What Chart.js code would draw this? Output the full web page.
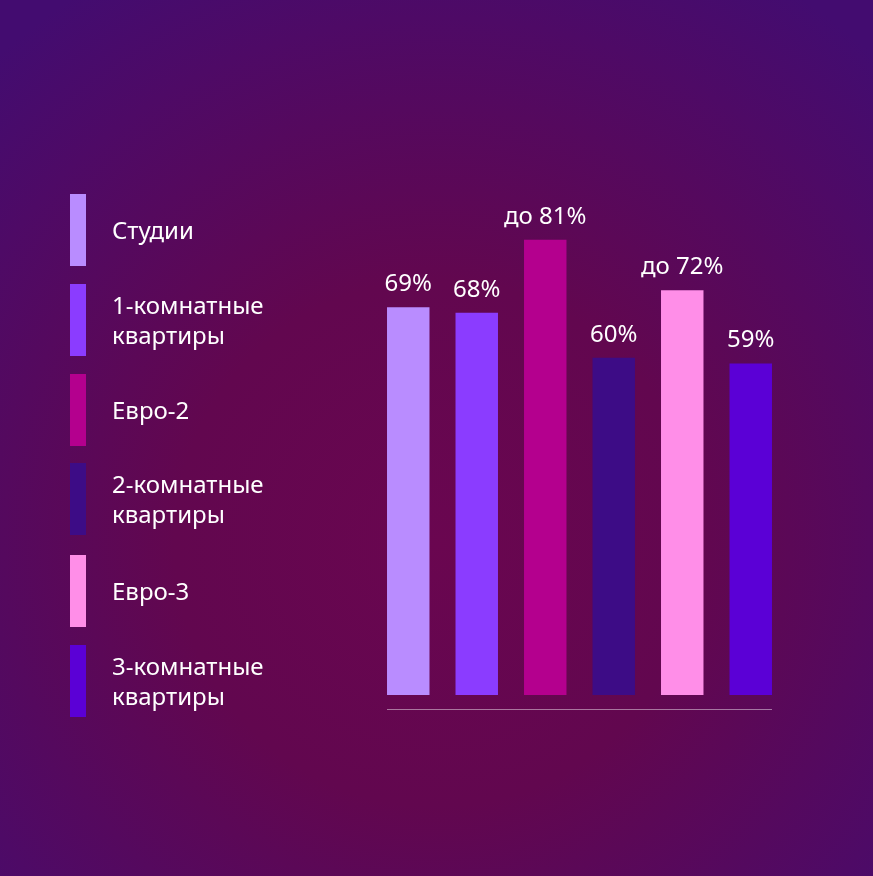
<!DOCTYPE html>
<html><head><meta charset="utf-8">
<script src="https://cdn.jsdelivr.net/npm/chart.js@4"></script>
<style>
html,body{margin:0;padding:0;width:873px;height:876px;overflow:hidden;}
body{background:radial-gradient(ellipse 75% 75% at 50% 62%, #6a0650 0%, #62074f 40%, #4e0a66 80%, #430c70 100%);font-family:"Noto Sans",sans-serif;position:relative;}
#c{position:absolute;left:0;top:0;}
.leg{position:absolute;left:70px;width:300px;}
.sw{position:absolute;left:0;top:0;width:16px;height:72px;}
.tx{position:absolute;left:42px;color:#fff;font-size:24px;line-height:30px;}
</style></head><body>
<canvas id="c" width="873" height="876"></canvas>
<div id="legend"></div>
<script>
const categories = ["Студии","1-комнатные\nквартиры","Евро-2","2-комнатные\nквартиры","Евро-3","3-комнатные\nквартиры"];
const values = [69,68,81,60,72,59];
const valueLabels = ["69%","68%","до 81%","60%","до 72%","59%"];
const colors = ["#b98cff","#8b3cff","#b4008e","#3d0c86","#ff8ee8","#5b00d6"];
const legendTops = [194,284,374,463,555,645];

const lg=document.getElementById('legend');
categories.forEach((c,i)=>{
  const lines=c.split("\n");
  const d=document.createElement('div');d.className='leg';d.style.top=legendTops[i]+'px';
  const top = lines.length===1 ? 21 : 6;
  d.innerHTML='<div class="sw" style="background:'+colors[i]+'"></div><div class="tx" style="top:'+top+'px">'+lines.join('<br>')+'</div>';
  lg.appendChild(d);
});

const labelPlugin={id:'lbl',afterDatasetsDraw(ch){
  const ctx=ch.ctx;const meta=ch.getDatasetMeta(0);
  ctx.save();ctx.fillStyle='#fff';ctx.font='24px "Noto Sans"';ctx.textAlign='center';ctx.textBaseline='alphabetic';
  meta.data.forEach((b,i)=>{ctx.fillText(valueLabels[i],b.x,b.y-16);});
  const f=meta.data[0],l=meta.data[meta.data.length-1];
  ctx.strokeStyle='rgba(255,255,255,0.45)';ctx.lineWidth=1;
  ctx.beginPath();ctx.moveTo(f.x-f.width/2,709.5);ctx.lineTo(l.x+l.width/2,709.5);ctx.stroke();
  ctx.restore();
}};

new Chart(document.getElementById('c'),{
  type:'bar',
  data:{labels:categories,datasets:[{data:values,backgroundColor:colors,categoryPercentage:1,barPercentage:0.62}]},
  options:{responsive:false,animation:false,
    layout:{padding:{left:374,right:88,top:133,bottom:181}},
    plugins:{legend:{display:false},tooltip:{enabled:false}},
    scales:{x:{display:false},y:{display:false,min:0,max:100}}},
  plugins:[labelPlugin]
});
</script></body></html>
